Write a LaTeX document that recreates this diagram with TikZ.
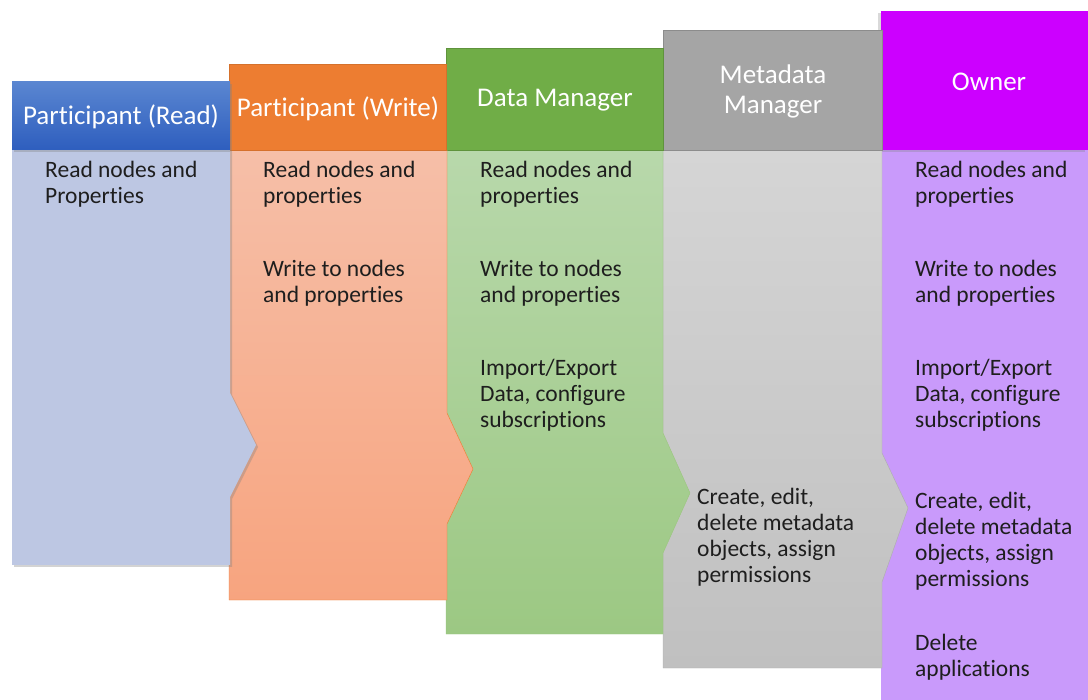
\documentclass[tikz,border=0pt]{standalone}
\usepackage{fontspec}
\setmainfont[Ligatures={NoCommon}]{Carlito}
\usetikzlibrary{shadows}

\definecolor{readtop}{HTML}{5A86D1}
\definecolor{readbot}{HTML}{2E5EBE}
\definecolor{readbody}{HTML}{BDC7E3}
\definecolor{writehead}{HTML}{ED7D31}
\definecolor{writetop}{HTML}{F6BFA8}
\definecolor{writebot}{HTML}{F7A47F}
\definecolor{datahead}{HTML}{70AD47}
\definecolor{datatop}{HTML}{B8D8AB}
\definecolor{databot}{HTML}{9CC883}
\definecolor{metahead}{HTML}{A5A5A5}
\definecolor{metatop}{HTML}{D5D5D5}
\definecolor{metabot}{HTML}{C0C0C0}
\definecolor{ownerhead}{HTML}{CC00FF}
\definecolor{ownerbody}{HTML}{C99AFB}
\definecolor{bodytext}{HTML}{1E1E1E}

\begin{document}
\begin{tikzpicture}[x=1pt,y=-1pt,
  headtext/.style={text=white, align=center, font=\fontsize{27}{30}\selectfont},
  bodytext/.style={anchor=north west, inner sep=0pt, align=left, text=bodytext,
    font=\fontsize{23.5}{26}\selectfont},
  softshadow/.style={drop shadow={shadow xshift=2pt, shadow yshift=-2pt, opacity=0.35}}]

\useasboundingbox (0,0) rectangle (1088,700);

% Owner column
\fill[ownerbody, softshadow] (881,150) rectangle (1088,700);
\fill[ownerhead, drop shadow={shadow xshift=-3pt, shadow yshift=-2pt, opacity=0.3}] (881,11) rectangle (1088,150);

% Metadata Manager column
\shade[top color=metatop, bottom color=metabot, draw=metabot!90!black]
  (663,150) -- (882,150) -- (882,453) -- (908,508) -- (882,582) -- (882,668) -- (663,668) -- cycle;
\fill[metahead, draw=metahead!85!black] (663,30) rectangle (882,150);

% Data Manager column
\shade[top color=datatop, bottom color=databot, draw=datahead!70]
  (446,150) -- (663,150) -- (663,433) -- (690,493) -- (663,553) -- (663,634) -- (446,634) -- cycle;
\fill[datahead, draw=datahead!85!black] (446,48) rectangle (663,150);

% Participant (Write) column
\shade[top color=writetop, bottom color=writebot, draw=writehead]
  (229,150) -- (447,150) -- (447,413) -- (473,469) -- (447,524) -- (447,600) -- (229,600) -- cycle;
\fill[writehead, draw=writehead!90!black] (229,64) rectangle (446,150);

% Participant (Read) column
\fill[readbody, softshadow]
  (12,150) -- (230,150) -- (230,393) -- (256,445) -- (230,497) -- (230,565) -- (12,565) -- cycle;
\shade[top color=readtop, bottom color=readbot, softshadow] (12,82) rectangle (230,150);

% Headers
\node[headtext] (readhd) at (121,117) {Participant (Read)};
\node[headtext] (writehd) at (338,109) {Participant (Write)};
\node[headtext] (datahd) at (555,100) {Data Manager};
\node[headtext] (metahd) at (773,91) {Metadata\\Manager};
\node[headtext] (ownerhd) at (989,82) {Owner};

% Participant (Read) rights
\node[bodytext] (readR) at (45,161) {Read nodes and\\Properties};

% Participant (Write) rights
\node[bodytext] (writeR) at (263,161) {Read nodes and\\properties};
\node[bodytext] (writeW) at (263,260) {Write to nodes\\and properties};

% Data Manager rights
\node[bodytext] (dataR) at (480,161) {Read nodes and\\properties};
\node[bodytext] (dataW) at (480,260) {Write to nodes\\and properties};
\node[bodytext] (dataI) at (480,359) {Import/Export\\Data, configure\\subscriptions};

% Metadata Manager rights
\node[bodytext] (metaC) at (697,488) {Create, edit,\\delete metadata\\objects, assign\\permissions};

% Owner rights
\node[bodytext] (ownerR) at (915,161) {Read nodes and\\properties};
\node[bodytext] (ownerW) at (915,260) {Write to nodes\\and properties};
\node[bodytext] (ownerI) at (915,359) {Import/Export\\Data, configure\\subscriptions};
\node[bodytext] (ownerC) at (915,492) {Create, edit,\\delete metadata\\objects, assign\\permissions};
\node[bodytext] (ownerD) at (915,634) {Delete\\applications};
\end{tikzpicture}
\end{document}
